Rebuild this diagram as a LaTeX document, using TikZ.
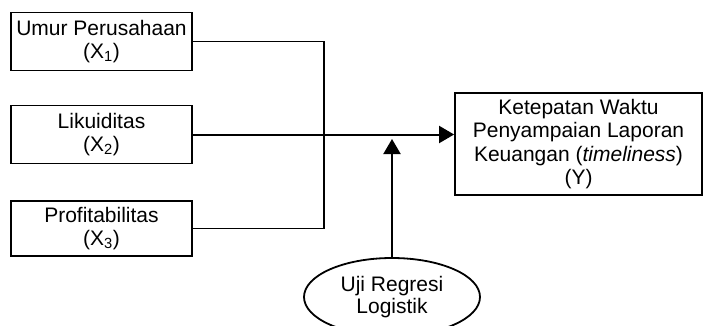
\documentclass[tikz,border=0pt]{standalone}
\usepackage{fontspec}
\setmainfont{Liberation Sans}
\usetikzlibrary{arrows.meta,shapes.geometric}
\begin{document}
\begin{tikzpicture}[x=1pt,y=-1pt,
  box/.style={draw,line width=1.8pt,inner sep=0pt,align=center,
    font=\fontsize{21}{23}\selectfont},
  oval/.style={draw,ellipse,line width=1.8pt,inner sep=0pt,align=center,
    minimum width=176pt,minimum height=78pt,
    font=\fontsize{21}{22}\selectfont},
  thinline/.style={line width=1.2pt},
  thickarrow/.style={line width=2pt,-{Triangle[length=15pt,width=17pt]}}]
\useasboundingbox (0,0) rectangle (706,326);
\begin{scope}
\clip (0,0) rectangle (706,326);
\node[box,minimum width=181pt,minimum height=58pt] (b1) at (101.5,41.5)
  {Umur Perusahaan\\(X\textsubscript{1})};
\node[box,minimum width=181pt,minimum height=58pt] (b2) at (101.5,134.5)
  {Likuiditas\\(X\textsubscript{2})};
\node[box,minimum width=181pt,minimum height=55pt] (b3) at (101.5,228.5)
  {Profitabilitas\\(X\textsubscript{3})};
\node[box,minimum width=247pt,minimum height=102pt,
  font=\fontsize{21}{23.5}\selectfont] (by) at (578.5,144)
  {Ketepatan Waktu\\Penyampaian Laporan\\Keuangan (\textit{timeliness})\\(Y)};
\node[oval] (ell) at (392,297) {Uji Regresi\\Logistik};
\end{scope}
\draw[thinline] (b1.east) -- ++(131,0) |- (b3.east);
\draw[thickarrow] (b2.east) -- (by.west |- b2.east);
\coordinate (tip) at (392,139);
\draw[thickarrow] (ell.north) -- (tip);
\end{tikzpicture}
\end{document}
